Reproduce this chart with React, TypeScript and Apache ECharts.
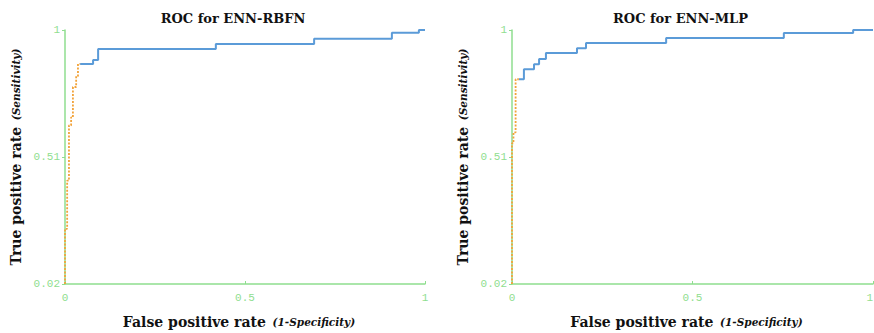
import React, { useEffect, useRef } from "react";
import * as echarts from "echarts";

// ENN-RBFN ROC curve (false positive rate, true positive rate)
const rbfnLowFpr = [0, 0, 0.006, 0.006, 0.011, 0.011, 0.017, 0.017, 0.022, 0.022, 0.031, 0.031, 0.036, 0.036, 0.042];
const rbfnLowTpr = [0.02, 0.233, 0.233, 0.419, 0.419, 0.632, 0.632, 0.663, 0.663, 0.78, 0.78, 0.822, 0.822, 0.869, 0.869];
const rbfnHighFpr = [0.042, 0.078, 0.078, 0.092, 0.092, 0.419, 0.419, 0.692, 0.692, 0.908, 0.908, 0.983, 0.983, 1];
const rbfnHighTpr = [0.869, 0.869, 0.884, 0.884, 0.927, 0.927, 0.946, 0.946, 0.966, 0.966, 0.989, 0.989, 1.0, 1.0];

// ENN-MLP ROC curve
const mlpLowFpr = [0, 0, 0.004, 0.004, 0.01, 0.01, 0.019];
const mlpLowTpr = [0.02, 0.563, 0.563, 0.605, 0.605, 0.81, 0.81];
const mlpHighFpr = [0.019, 0.033, 0.033, 0.061, 0.061, 0.075, 0.075, 0.094, 0.094, 0.18, 0.18, 0.205, 0.205, 0.427, 0.427, 0.753, 0.753, 0.945, 0.945, 1];
const mlpHighTpr = [0.81, 0.81, 0.849, 0.849, 0.868, 0.868, 0.888, 0.888, 0.911, 0.911, 0.93, 0.93, 0.95, 0.95, 0.969, 0.969, 0.988, 0.988, 1.0, 1.0];

const titles = ["ROC for ENN-RBFN", "ROC for ENN-MLP"];
const xTicks = { min: 0, max: 1, interval: 0.5 };
const yTicks = { min: 0.02, max: 1, interval: 0.49 };

const zip = (xs: number[], ys: number[]) => xs.map((x, i) => [x, ys[i]]);

const GREEN = "#8fde8f";
const ORANGE = "#f2a33a";
const BLUE = "#5b9bd8";

export default function App() {
  const ref = useRef<HTMLDivElement>(null);
  useEffect(() => {
    if (!ref.current) return;
    const chart = echarts.init(ref.current, null, { renderer: "svg" });
    const grids = [
      { left: 65, top: 30, width: 360, height: 254, outerBoundsMode: "none", containLabel: false },
      { left: 512, top: 30, width: 361, height: 254, outerBoundsMode: "none", containLabel: false },
    ];
    const nameRich = {
      a: { fontFamily: "DejaVu Serif", fontWeight: "bold", fontSize: 14, color: "#111" },
      b: { fontFamily: "DejaVu Serif", fontWeight: "bold", fontStyle: "italic", fontSize: 10.5, color: "#111" },
    };
    const xAxes = grids.map((_, i) => ({
      type: "value",
      gridIndex: i,
      ...xTicks,
      name: "{a|False positive rate}  {b|(1-Specificity)}",
      nameLocation: "middle",
      nameGap: 31,
      nameTextStyle: { rich: nameRich, padding: [0, 12, 0, 0] },
      axisLine: { lineStyle: { color: GREEN, width: 1.5 } },
      axisTick: { show: true, inside: true, length: 3, lineStyle: { color: GREEN } },
      axisLabel: {
        color: GREEN,
        fontFamily: "Liberation Mono",
        fontSize: 11,
        margin: 8,
        alignMaxLabel: i === 1 ? "right" : "center",
      },
      splitLine: { show: false },
    }));
    const yAxes = grids.map((_, i) => ({
      type: "value",
      gridIndex: i,
      ...yTicks,
      name: "{a|True positive rate}  {b|(Sensitivity)}",
      nameLocation: "middle",
      nameRotate: 90,
      nameGap: 42,
      nameTextStyle: { rich: nameRich },
      axisLine: { show: true, lineStyle: { color: GREEN, width: 1.5 } },
      axisTick: { show: true, length: 3, lineStyle: { color: GREEN } },
      axisLabel: { color: GREEN, fontFamily: "Liberation Mono", fontSize: 11, margin: 5 },
      splitLine: { show: false },
    }));
    const mk = (data: number[][], idx: number, dashed: boolean) => ({
      type: "line",
      xAxisIndex: idx,
      yAxisIndex: idx,
      data,
      showSymbol: false,
      lineStyle: dashed
        ? { color: ORANGE, width: 1.8, type: [2, 1.5] }
        : { color: BLUE, width: 2 },
      z: dashed ? 3 : 2,
    });
    chart.setOption({
      animation: false,
      backgroundColor: "#fff",
      title: titles.map((t, i) => ({
        text: t,
        left: grids[i].left + grids[i].width / 2 - 17,
        top: 7,
        textAlign: "center",
        textStyle: { fontFamily: "DejaVu Serif", fontWeight: "bold", fontSize: 13, color: "#111" },
      })),
      grid: grids,
      xAxis: xAxes,
      yAxis: yAxes,
      series: [
        mk(zip(rbfnLowFpr, rbfnLowTpr), 0, true),
        mk(zip(rbfnHighFpr, rbfnHighTpr), 0, false),
        mk(zip(mlpLowFpr, mlpLowTpr), 1, true),
        mk(zip(mlpHighFpr, mlpHighTpr), 1, false),
      ],
    });
    return () => chart.dispose();
  }, []);
  return <div ref={ref} style={{ width: 874, height: 333, position: "absolute", left: 0, top: 0 }} />;
}
